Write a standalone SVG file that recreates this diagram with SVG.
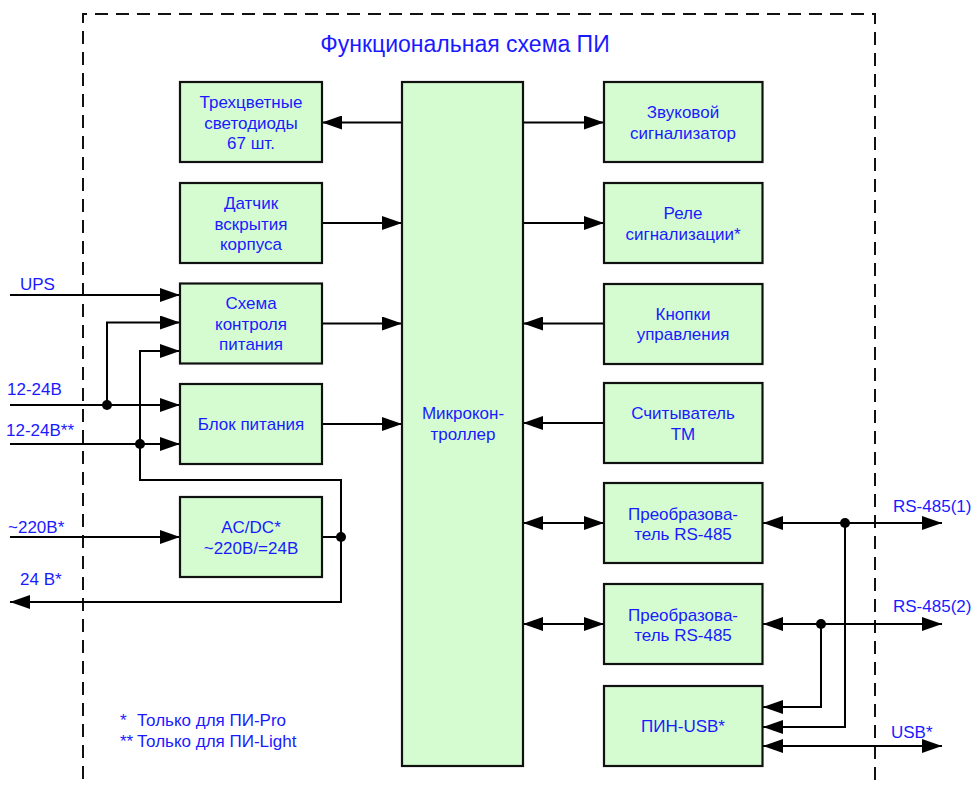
<svg xmlns="http://www.w3.org/2000/svg" width="974" height="787" viewBox="0 0 974 787">
<style>
.box{fill:#d4fcd0;stroke:#111;stroke-width:2.2}
.t{font-family:"Liberation Sans",Arial,sans-serif;font-size:17px;fill:#1a1aff;text-anchor:middle}
.l{font-family:"Liberation Sans",Arial,sans-serif;font-size:17px;fill:#1a1aff}
.w{fill:none;stroke:#000;stroke-width:2}
.a{marker-end:url(#ah)}
.b{marker-start:url(#ah);marker-end:url(#ah)}
.dot{fill:#000}
</style>
<defs>
<marker id="ah" markerUnits="userSpaceOnUse" markerWidth="20" markerHeight="14" refX="20" refY="7" orient="auto-start-reverse" viewBox="0 0 20 14">
<path d="M0,0 L20,7 L0,14 z" fill="#000"/>
</marker>
</defs>
<path d="M83,800 V14 H875 V800" fill="none" stroke="#111" stroke-width="2" stroke-dasharray="13,8"/>
<text class="t" x="465" y="52" style="font-size:23px">Функциональная схема ПИ</text>

<g id="connectors">
<line class="w a" x1="402" y1="122.5" x2="322" y2="122.5"/>
<line class="w a" x1="322" y1="223" x2="402" y2="223"/>
<line class="w a" x1="322" y1="323.5" x2="402" y2="323.5"/>
<line class="w a" x1="322" y1="424" x2="402" y2="424"/>
<line class="w a" x1="523" y1="122.5" x2="604" y2="122.5"/>
<line class="w a" x1="523" y1="223" x2="604" y2="223"/>
<line class="w a" x1="604" y1="323.5" x2="523" y2="323.5"/>
<line class="w a" x1="604" y1="423" x2="523" y2="423"/>
<line class="w b" x1="523" y1="523" x2="604" y2="523"/>
<line class="w b" x1="523" y1="624" x2="604" y2="624"/>
<line class="w b" x1="763" y1="523" x2="942" y2="523"/>
<line class="w b" x1="763" y1="624" x2="942" y2="624"/>
<polyline class="w a" points="845,523 845,727 763,727"/>
<polyline class="w a" points="821,624 821,707 763,707"/>
<line class="w b" x1="763" y1="746" x2="942" y2="746"/>
<circle class="dot" cx="845" cy="523" r="5"/>
<circle class="dot" cx="821" cy="624" r="5"/>

<line class="w a" x1="10" y1="295" x2="180" y2="295"/>
<line class="w a" x1="10" y1="405" x2="180" y2="405"/>
<polyline class="w a" points="107,405 107,322.5 180,322.5"/>
<line class="w a" x1="10" y1="444" x2="180" y2="444"/>
<polyline class="w a" points="140,480 140,351 180,351"/>
<polyline class="w a" points="140,444 140,480 341,480 341,602 10,602"/>
<line class="w a" x1="10" y1="537" x2="180" y2="537"/>
<line class="w" x1="322" y1="537" x2="341" y2="537"/>
<circle class="dot" cx="107" cy="405" r="5"/>
<circle class="dot" cx="140" cy="444" r="5"/>
<circle class="dot" cx="341" cy="537" r="5"/>
</g>

<g id="mcu">
<rect class="box" x="402" y="82" width="121" height="684"/>
<text class="t" x="463" y="419">Микрокон-</text>
<text class="t" x="463" y="440">троллер</text>
</g>

<g id="leds">
<rect class="box" x="180" y="82" width="142" height="80"/>
<text class="t" x="251" y="108">Трехцветные</text>
<text class="t" x="251" y="129">светодиоды</text>
<text class="t" x="251" y="149">67 шт.</text>
</g>
<g id="sensor">
<rect class="box" x="180" y="183" width="142" height="80"/>
<text class="t" x="251" y="209">Датчик</text>
<text class="t" x="251" y="230">вскрытия</text>
<text class="t" x="251" y="250">корпуса</text>
</g>
<g id="powercontrol">
<rect class="box" x="180" y="283.5" width="142" height="80"/>
<text class="t" x="251" y="309">Схема</text>
<text class="t" x="251" y="330">контроля</text>
<text class="t" x="251" y="350">питания</text>
</g>
<g id="psu">
<rect class="box" x="180" y="384" width="142" height="80"/>
<text class="t" x="251" y="430">Блок питания</text>
</g>
<g id="acdc">
<rect class="box" x="180" y="497" width="142" height="80"/>
<text class="t" x="251" y="533">AC/DC*</text>
<text class="t" x="251" y="554">~220В/=24В</text>
</g>

<g id="buzzer">
<rect class="box" x="604" y="82" width="158.5" height="80"/>
<text class="t" x="683" y="118">Звуковой</text>
<text class="t" x="683" y="139">сигнализатор</text>
</g>
<g id="relay">
<rect class="box" x="604" y="183" width="158.5" height="80"/>
<text class="t" x="683" y="219">Реле</text>
<text class="t" x="683" y="240">сигнализации*</text>
</g>
<g id="buttons">
<rect class="box" x="604" y="284" width="158.5" height="80"/>
<text class="t" x="683" y="319.5">Кнопки</text>
<text class="t" x="683" y="340">управления</text>
</g>
<g id="reader">
<rect class="box" x="604" y="383" width="158.5" height="80"/>
<text class="t" x="683" y="419">Считыватель</text>
<text class="t" x="683" y="440">ТМ</text>
</g>
<g id="rs485a">
<rect class="box" x="604" y="483" width="158.5" height="80"/>
<text class="t" x="683" y="519.5">Преобразова-</text>
<text class="t" x="683" y="540">тель RS-485</text>
</g>
<g id="rs485b">
<rect class="box" x="604" y="584" width="158.5" height="80"/>
<text class="t" x="683" y="620.5">Преобразова-</text>
<text class="t" x="683" y="641">тель RS-485</text>
</g>
<g id="pinusb">
<rect class="box" x="604" y="686" width="158.5" height="80"/>
<text class="t" x="683" y="732">ПИН-USB*</text>
</g>

<g id="labels">
<text class="l" x="20" y="290">UPS</text>
<text class="l" x="7" y="395">12-24В</text>
<text class="l" x="6" y="436">12-24В**</text>
<text class="l" x="8" y="533">~220В*</text>
<text class="l" x="20" y="585">24 В*</text>
<text class="l" x="893" y="512">RS-485(1)</text>
<text class="l" x="893" y="612">RS-485(2)</text>
<text class="l" x="891" y="738">USB*</text>
<text class="l" x="120" y="726">*</text>
<text class="l" x="137" y="726">Только для ПИ-Pro</text>
<text class="l" x="120" y="747">**</text>
<text class="l" x="137" y="747">Только для ПИ-Light</text>
</g>
</svg>
